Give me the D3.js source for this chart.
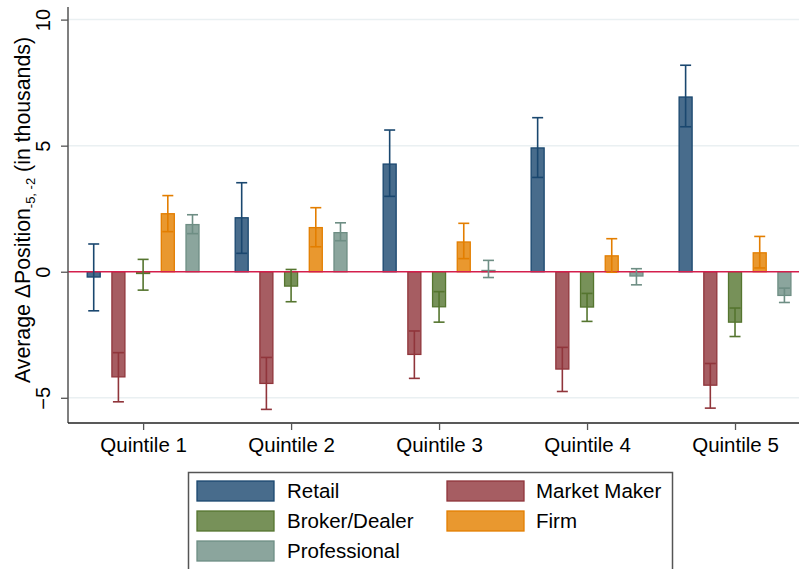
<!DOCTYPE html>
<html>
<head>
<meta charset="utf-8">
<script src="https://cdn.jsdelivr.net/npm/d3@7"></script>
<style>
    body { margin: 0; background: #fff; }
    text { font-family: "Liberation Sans", Arial, sans-serif; fill: #000; }
</style>
</head>
<body>
<div id="chart"></div>
<script>
// data
const quintiles = ['Quintile 1', 'Quintile 2', 'Quintile 3', 'Quintile 4', 'Quintile 5'];
const seriesNames = ['Retail', 'Market Maker', 'Broker/Dealer', 'Firm', 'Professional'];
// mean, lower CI, upper CI per quintile
const retail = [[-0.21, -1.55, 1.10], [2.14, 0.73, 3.53], [4.27, 2.99, 5.62], [4.91, 3.74, 6.11], [6.93, 5.75, 8.19]];
const marketMaker = [[-4.17, -5.16, -3.21], [-4.43, -5.46, -3.40], [-3.28, -4.23, -2.35], [-3.86, -4.75, -3.00], [-4.50, -5.41, -3.64]];
const brokerDealer = [[-0.07, -0.73, 0.49], [-0.57, -1.19, 0.09], [-1.39, -2.00, -0.79], [-1.40, -1.97, -0.86], [-2.00, -2.57, -1.44]];
const firm = [[2.30, 1.59, 3.02], [1.75, 0.99, 2.54], [1.18, 0.52, 1.92], [0.63, -0.02, 1.31], [0.75, 0.15, 1.40]];
const professional = [[1.87, 1.51, 2.26], [1.55, 1.23, 1.94], [0.05, -0.23, 0.45], [-0.17, -0.52, 0.12], [-0.94, -1.22, -0.65]];
const yTicks = [-5, 0, 5, 10];

const seriesValues = [retail, marketMaker, brokerDealer, firm, professional];
const strokeColors = ['#1a476f', '#90353b', '#55752f', '#e37e00', '#6e8e84'];
const fillColors = ['#486c8c', '#a65d62', '#779159', '#e9982f', '#8ba59d'];

const W = 799, H = 569;
const margin = { top: 7, right: 0, bottom: 146, left: 68 };
const width = W - margin.left - margin.right;
const height = H - margin.top - margin.bottom;

const svg = d3
    .select('#chart')
    .append('svg')
    .attr('width', W)
    .attr('height', H);

const g = svg
    .append('g')
    .attr('transform', `translate(${margin.left}, ${margin.top})`);

const xScale = d3
    .scalePoint()
    .domain(quintiles)
    .range([0, width])
    .padding(0.47)
    .align(0.54);
const offset = d3
    .scalePoint()
    .domain(seriesNames)
    .range([-49.4, 49.4]);
const yScale = d3
    .scaleLinear()
    .domain([-6, 10.5])
    .range([height, 0]);
const barW = 13;
const capW = 11;

// grid lines
g.selectAll('.grid')
    .data(yTicks.filter(t => t !== 0))
    .enter()
    .append('line')
    .attr('x1', 0)
    .attr('x2', width)
    .attr('y1', d => yScale(d))
    .attr('y2', d => yScale(d))
    .attr('stroke', '#eaf0f2')
    .attr('stroke-width', 1.5);

// bars
const rows = [];
seriesNames.forEach((s, si) => {
    seriesValues[si].forEach((v, qi) => {
        rows.push({ s: si, q: quintiles[qi], mean: v[0], lo: v[1], hi: v[2] });
    });
});

g.selectAll('.bar')
    .data(rows)
    .enter()
    .append('rect')
    .attr('x', d => xScale(d.q) + offset(seriesNames[d.s]) - barW / 2)
    .attr('y', d => yScale(Math.max(0, d.mean)))
    .attr('width', barW)
    .attr('height', d => Math.abs(yScale(d.mean) - yScale(0)))
    .attr('fill', d => fillColors[d.s])
    .attr('stroke', d => strokeColors[d.s])
    .attr('stroke-width', 1.3);

// zero line
g.append('line')
    .attr('x1', 0)
    .attr('x2', width)
    .attr('y1', yScale(0))
    .attr('y2', yScale(0))
    .attr('stroke', '#d41f4c')
    .attr('stroke-width', 1.5);

// error bars
const eb = g.selectAll('.eb')
    .data(rows)
    .enter()
    .append('g')
    .attr('stroke', d => strokeColors[d.s])
    .attr('stroke-width', 1.6)
    .attr('transform', d => `translate(${xScale(d.q) + offset(seriesNames[d.s])}, 0)`);
eb.append('line')
    .attr('x1', 0).attr('x2', 0)
    .attr('y1', d => yScale(d.lo))
    .attr('y2', d => yScale(d.hi));
eb.append('line')
    .attr('x1', -capW / 2).attr('x2', capW / 2)
    .attr('y1', d => yScale(d.lo))
    .attr('y2', d => yScale(d.lo));
eb.append('line')
    .attr('x1', -capW / 2).attr('x2', capW / 2)
    .attr('y1', d => yScale(d.hi))
    .attr('y2', d => yScale(d.hi));

// y axis
const yAxis = g.append('g')
    .call(d3.axisLeft(yScale).tickValues(yTicks).tickSize(7).tickPadding(4));
yAxis.select('.domain').attr('stroke', '#555').attr('stroke-width', 1.5)
    .attr('d', `M0,0V${height}`);
yAxis.selectAll('.tick line').attr('stroke', '#555').attr('stroke-width', 1.3);
yAxis.selectAll('.tick text')
    .attr('font-size', 20)
    .attr('x', null)
    .attr('dy', null)
    .attr('text-anchor', 'middle')
    .attr('transform', 'translate(-18, 0) rotate(-90)')
    .attr('y', 0);

// x axis
const xAxis = g.append('g')
    .attr('transform', `translate(0, ${height})`)
    .call(d3.axisBottom(xScale).tickSize(7).tickPadding(7));
xAxis.select('.domain').attr('stroke', '#222').attr('stroke-width', 1.5)
    .attr('d', `M0,0H${width}`);
xAxis.selectAll('.tick line').attr('stroke', '#555').attr('stroke-width', 1.3);
xAxis.selectAll('.tick text').attr('font-size', 20.5);

// y title
const title = svg.append('text')
    .attr('transform', `translate(30, 210) rotate(-90)`)
    .attr('text-anchor', 'middle')
    .attr('font-size', 21.3);
title.append('tspan').text('Average \u0394Position');
title.append('tspan').attr('font-size', 13).attr('dy', 5).text('-5, -2');
title.append('tspan').attr('dy', -5).text(' (in thousands)');

// legend
const legend = svg.append('g');
legend.append('rect')
    .attr('x', 188.5)
    .attr('y', 472.5)
    .attr('width', 484)
    .attr('height', 110)
    .attr('fill', '#fff')
    .attr('stroke', '#555')
    .attr('stroke-width', 1.5);
const items = legend.selectAll('.item')
    .data(seriesNames)
    .enter()
    .append('g')
    .attr('transform', (d, i) => `translate(${i % 2 === 0 ? 197 : 447}, ${481 + Math.floor(i / 2) * 30})`);
items.append('rect')
    .attr('width', 77)
    .attr('height', 20)
    .attr('fill', (d, i) => fillColors[i])
    .attr('stroke', (d, i) => strokeColors[i])
    .attr('stroke-width', 1.3);
items.append('text')
    .attr('x', (d, i) => i % 2 === 0 ? 90 : 89)
    .attr('y', 17)
    .attr('font-size', 20.5)
    .text(d => d);
</script>
</body>
</html>
